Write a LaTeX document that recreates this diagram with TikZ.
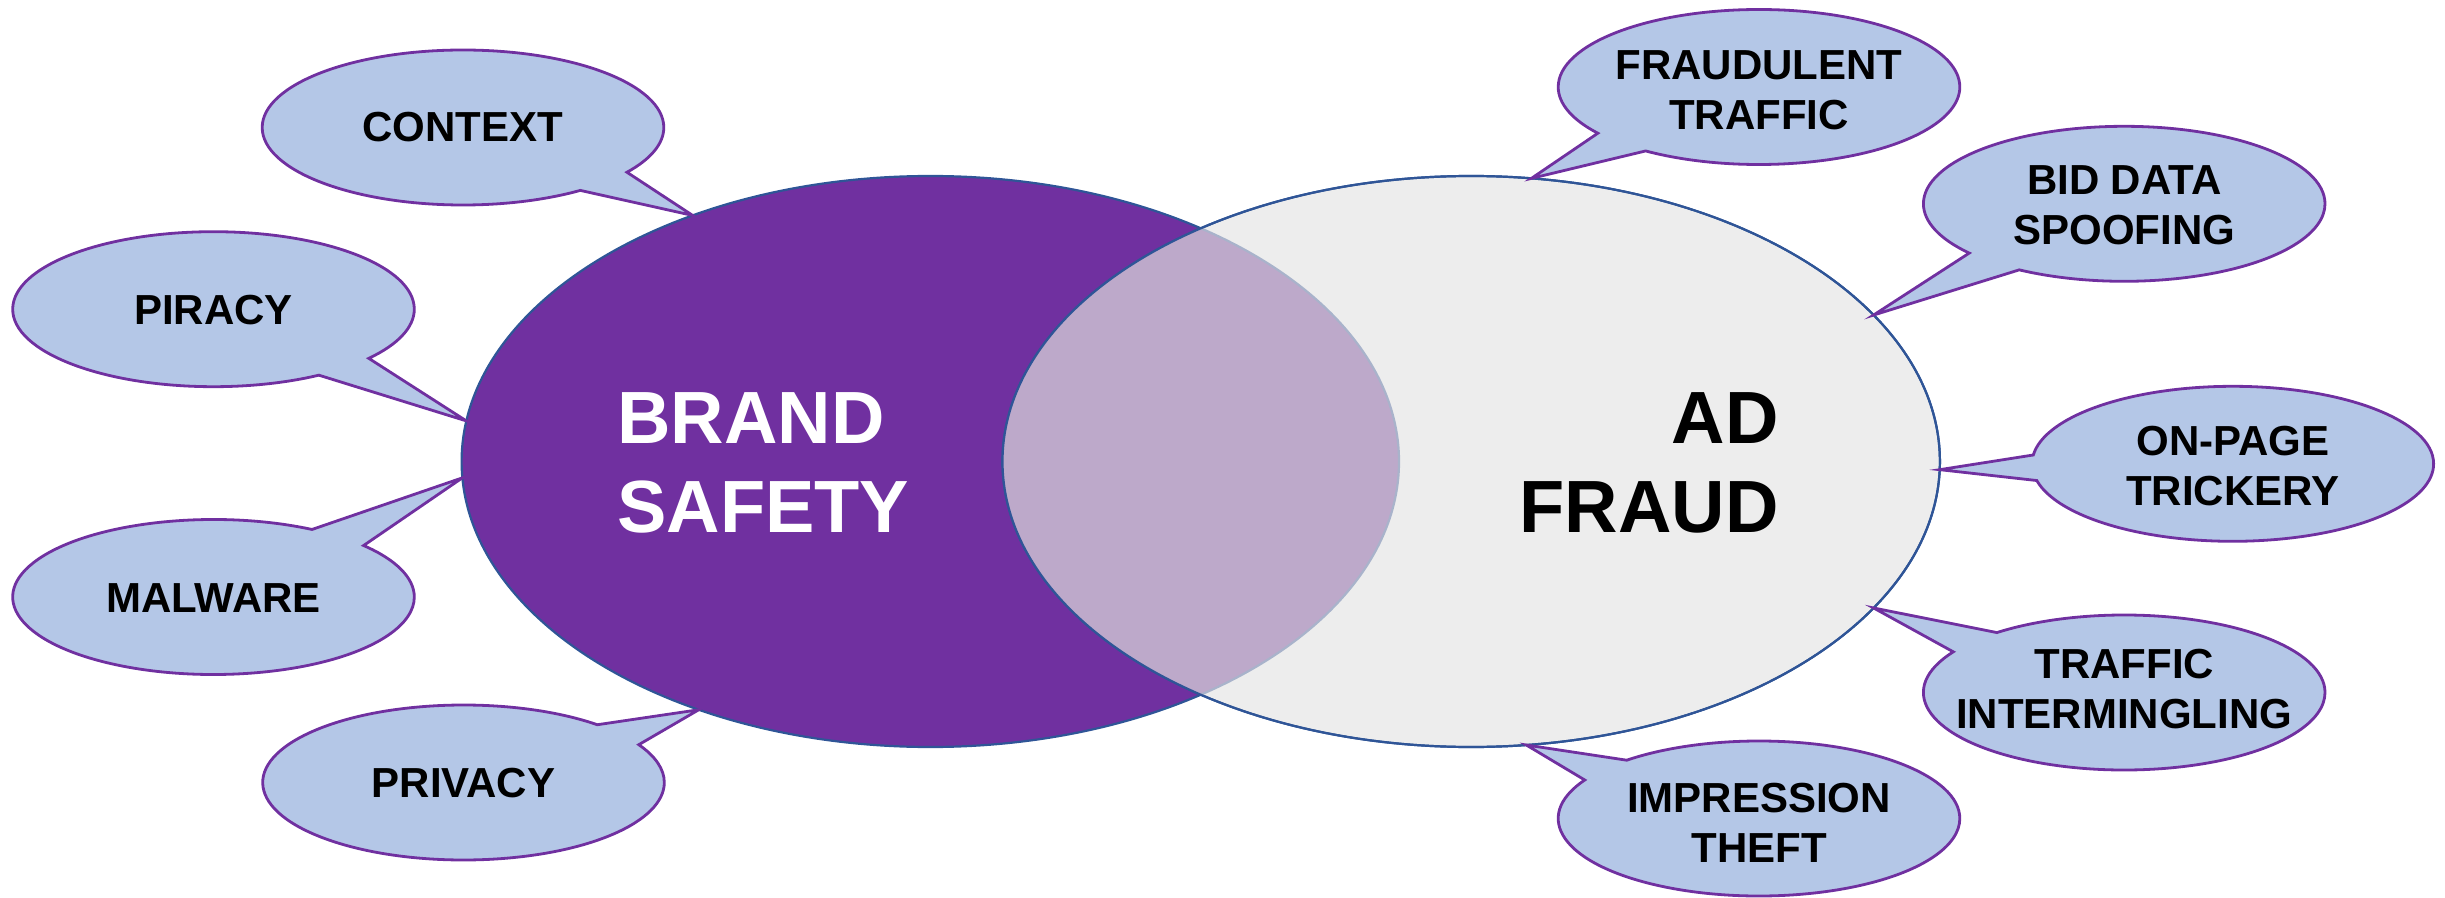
\documentclass[tikz,border=0pt]{standalone}
\usepackage{fontspec}
\setmainfont{Liberation Sans}
\usetikzlibrary{shapes.geometric,shapes.callouts}
\definecolor{brandpurple}{HTML}{7030A0}
\definecolor{fraudgrey}{HTML}{EDEDED}
\definecolor{overlapmauve}{HTML}{BDA9CA}
\definecolor{ringblue}{HTML}{2F5597}
\definecolor{ringsoft}{HTML}{A9B3CB}
\definecolor{bubblefill}{HTML}{B4C7E7}
\begin{document}
\begin{tikzpicture}[x=0.5pt,y=-0.5pt,
  venn/.style={ellipse, minimum width=468.7pt, minimum height=285.5pt,
    inner sep=0pt, outer sep=0pt, draw=ringblue, line width=1.1pt},
  bubble/.style={ellipse callout, minimum width=200.8pt, minimum height=77.5pt,
    inner sep=0pt, outer sep=0pt, fill=bubblefill, draw=brandpurple,
    line width=1.4pt, callout pointer arc=19},
  bubbletext/.style={font=\fontsize{21}{25}\selectfont\bfseries,
    align=center, inner sep=0pt},
  bigtext/.style={font=\fontsize{37}{44.7}\selectfont\bfseries, inner sep=0pt}]
\useasboundingbox (0,0) rectangle (2445,898);

% the two overlapping sets
\node[venn, fill=brandpurple] (brand) at (930.3,461.5) {};
\node[venn, fill=fraudgrey] (fraud) at (1471.2,461.5) {};
\begin{scope}
  \clip (fraud.center) ellipse [x radius=234.35pt, y radius=142.75pt];
  \fill[overlapmauve] (brand.center) ellipse [x radius=234.35pt, y radius=142.75pt];
  \draw[ringsoft, line width=1.1pt] (brand.center) ellipse [x radius=234.35pt, y radius=142.75pt];
\end{scope}
\draw[ringblue, line width=1.1pt] (fraud.center) ellipse [x radius=234.35pt, y radius=142.75pt];

\node[bigtext, text=white, align=left, anchor=west] (brandlabel) at (617,463) {BRAND\\SAFETY};
\node[bigtext, text=black, align=right, anchor=east] (fraudlabel) at (1779,463) {AD\\FRAUD};

% brand safety bubbles
\node[bubble, callout absolute pointer={(brand.134)}] (context) at (463,127.5) {};
\node[bubbletext] (contexttext) at (463,127.5) {CONTEXT};
\node[bubble, callout absolute pointer={(brand.175)}] (piracy) at (213.5,309.2) {};
\node[bubbletext] (piracytext) at (213.5,310) {PIRACY};
\node[bubble, callout absolute pointer={(brand.182)}] (malware) at (213.5,597) {};
\node[bubbletext] (malwaretext) at (213.5,598) {MALWARE};
\node[bubble, callout absolute pointer={(brand.227)}] (privacy) at (463.5,782.5) {};
\node[bubbletext] (privacytext) at (463.5,782.8) {PRIVACY};

% ad fraud bubbles
\node[bubble, callout absolute pointer={(fraud.78)}] (fraudtraffic) at (1759,87) {};
\node[bubbletext] (fraudtraffictext) at (1759,90) {FRAUDULENT\\TRAFFIC};
\node[bubble, callout absolute pointer={(fraud.20)}] (bidspoof) at (2124.2,203.8) {};
\node[bubbletext] (bidspooftext) at (2124.2,205.5) {BID DATA\\SPOOFING};
\node[bubble, callout absolute pointer={(fraud.-1)}] (onpage) at (2232.8,463.8) {};
\node[bubbletext] (onpagetext) at (2232.8,466) {ON-PAGE\\TRICKERY};
\node[bubble, callout absolute pointer={(fraud.-20)}] (intermingle) at (2124.2,692.5) {};
\node[bubbletext] (intermingletext) at (2124.2,689) {TRAFFIC\\INTERMINGLING};
\node[bubble, callout absolute pointer={(fraud.-79)}] (impression) at (1759,818.5) {};
\node[bubbletext] (impressiontext) at (1759,823) {IMPRESSION\\THEFT};
\end{tikzpicture}
\end{document}
